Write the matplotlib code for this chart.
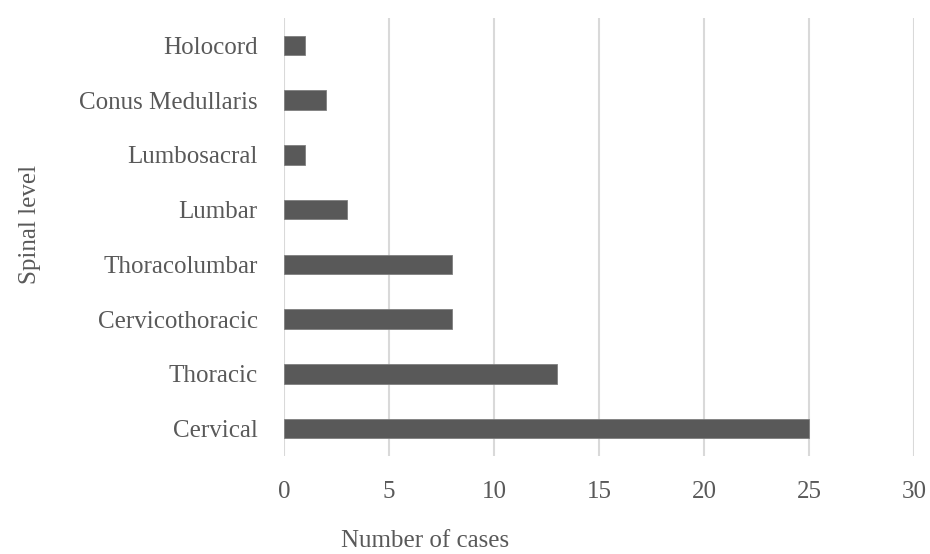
import numpy as np
import matplotlib
matplotlib.use("Agg")
import matplotlib.pyplot as plt

# spinal levels, bottom to top
levels = ["Cervical", "Thoracic", "Cervicothoracic", "Thoracolumbar",
          "Lumbar", "Lumbosacral", "Conus Medullaris", "Holocord"]
cases = [25, 13, 8, 8, 3, 1, 2, 1]
xticks = [0, 5, 10, 15, 20, 25, 30]

txt = '#595959'
fs = 18
plt.rcParams['font.family'] = ['Liberation Serif', 'DejaVu Serif']

fig = plt.figure(figsize=(9.3, 5.54), dpi=100)
ax = fig.add_axes([284/930, 1-456/554, 630/930, 438/554])

y = np.arange(len(levels))
ax.barh(y, cases, height=0.36, color='#595959', edgecolor='#7f7f7f', linewidth=0.6, zorder=3)

ax.set_xlim(0, 30)
ax.set_ylim(-0.5, len(levels) - 0.5)
ax.set_xticks(xticks)
ax.set_xticklabels([str(t) for t in xticks], fontsize=fs, color=txt)
ax.set_yticks(y)
ax.set_yticklabels(levels, fontsize=fs, color=txt)
ax.tick_params(axis='both', length=0)
ax.tick_params(axis='x', pad=18)
ax.tick_params(axis='y', pad=19)
ax.xaxis.grid(True, color='#d9d9d9', linewidth=1.5, zorder=0)
for s in ax.spines.values():
    s.set_visible(False)

fig.text(425/930, 1-541/554, 'Number of cases', fontsize=fs, color=txt, ha='center', va='center')
fig.text(30/930, 1-224/554, 'Spinal level', fontsize=fs, color=txt, ha='center', va='center', rotation=90)

fig.savefig('out.png', dpi=100)
